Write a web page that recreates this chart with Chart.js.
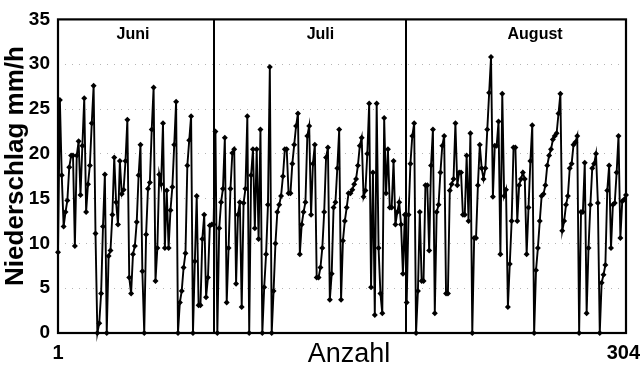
<!DOCTYPE html>
<html>
<head>
<meta charset="utf-8">
<script src="https://cdn.jsdelivr.net/npm/chart.js@4/dist/chart.umd.min.js"></script>
<style>
  html, body { margin: 0; padding: 0; background: #fff; }
  #wrap { width: 640px; height: 372px; }
</style>
</head>
<body>
<div id="wrap"><canvas id="c" width="640" height="372"></canvas></div>
<script>
// Stündliche Niederschlagsintensität (mm/h), Ereignisse Juni bis August
const niederschlag = [
  9, 26, 17.6, 11.9, 13.5, 14.8, 18.5, 19.8, 19.8, 9.7,
  19.8, 21.4, 15.4, 20.9, 26.2, 13.5, 16.6, 18.7, 23.4, 27.6,
  11.1, 0, 1.1, 4.4, 11.9, 17.7, 0, 8.6, 9.2, 13.2, 19.6,
  14.6, 12.1, 19.2, 15.5, 16, 19.2, 23.8, 6.2, 4.4, 8.8,
  9.7, 12.4, 17.6, 21, 6.9, 0, 11, 16.1, 16.8, 22.7,
  27.4, 5.8, 9.5, 17.7, 16.6, 23.4, 9.5, 15.9, 9.5, 13.7, 16.3, 21,
  25.8, 0, 3.4, 4.7, 7.3, 8.9, 18.7, 21.5, 24.2, 0,
  8, 15.3, 3.1, 3.1, 10.5, 13.2, 4, 6.2, 12, 12.1,
  12.1, 22.5, 0, 11.7, 14.6, 16.1, 21.8, 3.4, 9.5, 16.1, 20.1,
  20.5, 5.5, 13.2, 14.6, 2.9, 14.5, 16.1, 24.2, 0,
  17.6, 20.5, 11.7, 20.5, 10.5, 22.7, 0, 5.1, 8.8, 14.3,
  29.7, 0, 4.7, 10, 13.5, 14.3, 15.3, 17.5, 20.5, 20.5,
  15.6, 15.6, 18.9, 21, 23.1,
  24.5, 8.8, 12.1, 13.5, 14.6, 22, 23.1, 13.2, 18.9, 21,
  6.2, 6.2, 7.3, 9.5, 13.5, 19.6, 20.7, 3.7, 6.6, 14,
  14.6, 18.4, 22.7, 3.7, 10.3, 12.5, 14, 15.6, 15.6,
  16, 16.6, 17.2, 18.7, 20.9, 21.8, 15.2, 15.9, 20, 25.6,
  5.1, 17.9, 2, 25.6, 9.5, 4.4, 2.2, 24, 15.6, 20.5,
  14, 14, 19.2, 12.1, 13.5, 14.6, 12.1, 6.6, 13.2, 3.4,
  13.2, 18.9, 22, 23.4,
  0, 4.7, 13.5, 5.8, 5.8, 16.5, 16.5, 9.2, 18.7, 22.7,
  2.2, 13.5, 14.3, 17.9, 20.9, 22, 4.4, 4.4, 15.9, 16.6,
  17.2, 23.4, 16.5, 17.9, 17.9, 13.2, 13.2, 19.8, 12.5, 22.3,
  0, 10.6, 10.6, 16.5, 21,
  18.4, 17.2, 18.4, 22.7, 26.8, 30.8, 15.2, 20.9, 20.9, 23.6,
  8.8, 26.7, 15.3, 16, 2.9, 7.7, 12.5, 20.7, 20.7,
  12.5, 16.5, 17.2, 17.9, 17.2, 8.8, 14, 19.2, 23.2, 0,
  7, 9.5, 12.5, 15.3,
  15.5, 16.5, 18.7, 19.8, 20.5, 21.6, 22, 22.3, 24.5, 26.7,
  11.4, 12.5, 14.3, 15.3, 18.4, 18.9, 21, 21.3, 22, 0,
  13.5, 13.5, 19, 2.2, 9.5, 14.3, 18.4, 18.9, 20,
  14.5, 0, 5.6, 6.5, 7.6, 15.9, 18.7, 9.5, 14.3, 14.5,
  17.9, 22, 10.6, 14.7, 14.9, 15.4
];

// laufende Nummer der Werte (1 … 304)
const anzahl = niederschlag.map((_, i) => i + 1);

// Monate, Monatswechsel und Lage der Monatsnamen (laufende Nummer)
const monate = ['Juni', 'Juli', 'August'];
const monatsGrenzen = [84.2, 186.6];
const monatsMitte = [41, 141, 255.5];

const yTicks = [0, 5, 10, 15, 20, 25, 30, 35];

const FONT = '"Liberation Sans", Arial, sans-serif';

// Rahmen, Monatstrenner und Beschriftungen unter der x-Achse
const rahmenPlugin = {
  id: 'rahmen',
  afterDatasetsDraw(chart) {
    const { ctx, chartArea: a, scales: { x } } = chart;
    ctx.save();
    ctx.strokeStyle = '#000';
    ctx.lineWidth = 2;
    monatsGrenzen.forEach(n => {
      const px = Math.round(x.getPixelForValue(n - 1));
      ctx.beginPath();
      ctx.moveTo(px, a.top);
      ctx.lineTo(px, a.bottom);
      ctx.stroke();
    });
    ctx.lineWidth = 2.2;
    ctx.strokeRect(a.left, a.top, a.right - a.left, a.bottom - a.top);

    ctx.fillStyle = '#000';
    ctx.textBaseline = 'middle';
    ctx.textAlign = 'center';
    ctx.font = 'bold 16px ' + FONT;
    monate.forEach((m, i) => {
      ctx.fillText(m, x.getPixelForValue(monatsMitte[i] - 1), a.top + 15);
    });

    ctx.font = 'bold 20px ' + FONT;
    ctx.fillText(String(anzahl[0]), x.getPixelForValue(0), a.bottom + 20);
    ctx.textAlign = 'right';
    ctx.fillText(String(anzahl[anzahl.length - 1]), 640, a.bottom + 20);
    ctx.textAlign = 'center';
    ctx.font = '27px ' + FONT;
    ctx.fillText('Anzahl', (a.left + a.right) / 2 + 7, a.bottom + 22);

    // Achsentitel der y-Achse, leicht über der Mitte
    ctx.save();
    ctx.translate(16, 166);
    ctx.rotate(-Math.PI / 2);
    ctx.font = 'bold 26px ' + FONT;
    ctx.fillText('Niederschlag mm/h', 0, 0);
    ctx.restore();
    ctx.restore();
  }
};

new Chart(document.getElementById('c'), {
  type: 'line',
  data: {
    labels: anzahl,
    datasets: [{
      data: niederschlag,
      borderColor: '#000',
      backgroundColor: '#000',
      borderWidth: 1.9,
      pointStyle: 'rectRot',
      pointRadius: 3,
      pointBorderWidth: 0,
      tension: 0,
      clip: false
    }]
  },
  options: {
    responsive: false,
    animation: false,
    layout: { padding: { left: 0, right: 14, top: 15, bottom: 0 } },
    plugins: { legend: { display: false }, tooltip: { enabled: false } },
    scales: {
      x: {
        type: 'category',
        offset: false,
        ticks: { display: false },
        grid: { display: false, drawTicks: false },
        border: { display: false },
        afterFit(s) { s.height = 39; }
      },
      y: {
        min: 0,
        max: 35,
        afterBuildTicks(s) { s.ticks = yTicks.map(v => ({ value: v })); },
        ticks: {
          color: '#000',
          padding: 8,
          font: { family: FONT, size: 19, weight: 'bold' }
        },
        grid: {
          color: '#b4b4b4',
          lineWidth: 1,
          drawTicks: false
        },
        border: { display: false, dash: [1, 6] },
        afterFit(s) { s.width = 58; }
      }
    }
  },
  plugins: [rahmenPlugin]
});
</script>
</body>
</html>
